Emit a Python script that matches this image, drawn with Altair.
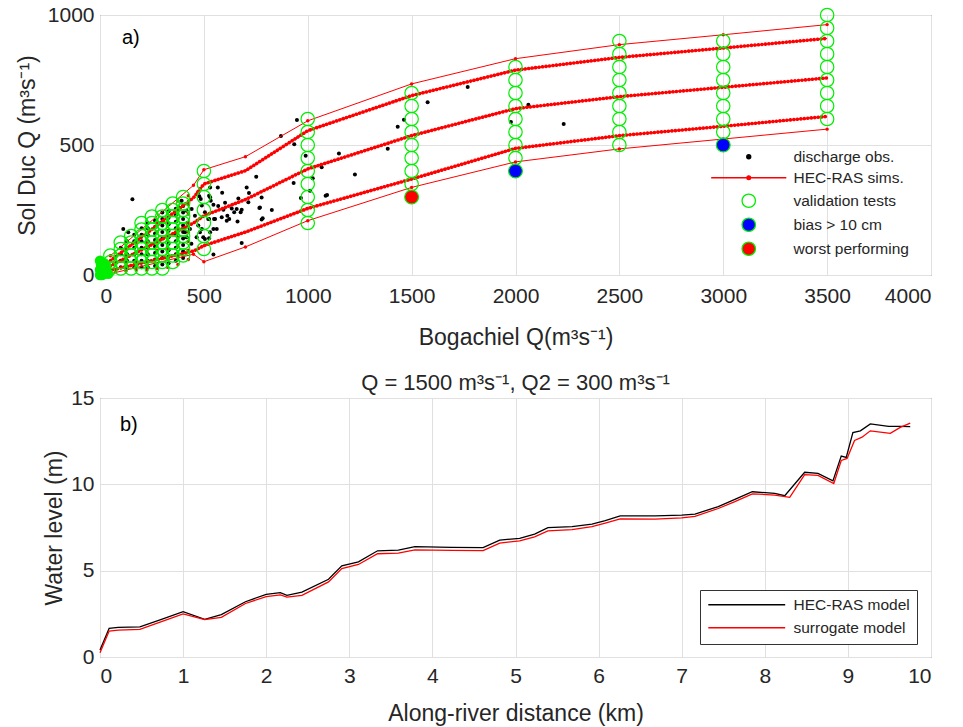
import altair as alt
import pandas as pd

FONT = "Liberation Sans"
TXT = "#262626"
GREEN = "#00ee00"

# ---------------- panel a) data ----------------
# HEC-RAS simulation curves (Bogachiel Q nodes -> Sol Duc Q)
sim_x = [50, 450, 500, 700, 1000, 1500, 2000, 2500, 3000, 3500]
sim_upper_env = [74, 345, 405, 455, 593, 735, 832, 886, 924, 963]
sim_upper_inner = [55, 297, 350, 401, 555, 690, 788, 837, 873, 910]
sim_middle = [35, 200, 228, 290, 408, 536, 640, 686, 722, 758]
sim_lower_inner = [18, 92, 113, 165, 256, 369, 487, 536, 572, 610]
sim_lower_env = [5, 80, 51, 108, 209, 337, 435, 485, 523, 561]

# low-flow simulation grid (Bogachiel Q -> list of Sol Duc Q)
sim_grid = {
    75: [15, 45],
    125: [15, 45, 80],
    175: [20, 50, 85, 120],
    225: [20, 55, 90, 125, 160],
    275: [25, 60, 95, 130, 165, 200],
    325: [30, 65, 100, 135, 170, 205, 240],
    375: [40, 75, 110, 145, 180, 215, 250, 285],
    425: [60, 95, 130, 165, 200, 235, 270, 305],
}

# discharge observations
obs_x = [156, 871, 948, 935, 990, 1067, 1086, 967, 932, 1011, 1024, 1093, 1150, 1227,
         1385, 1433, 1463, 1577, 1770, 1978, 2062, 2232,
         752, 706, 666, 717, 778, 827, 778, 682, 677, 658, 634, 613, 602, 588, 594, 569,
         546, 533, 525, 530, 567, 485, 490, 505, 525, 549, 562, 546, 505, 473, 457, 441,
         433, 465, 490, 525, 546, 610, 662, 714, 767, 783, 409, 417, 417, 393, 770, 646,
         622, 586, 554, 530, 481, 478, 497, 473, 682, 521, 530, 112, 136, 420, 440, 380]
obs_y = [291, 535, 596, 503, 459, 414, 305, 296, 354, 324, 372, 308, 467, 387,
         486, 570, 597, 664, 723, 588, 655, 581,
         378, 337, 294, 315, 298, 250, 213, 123, 241, 254, 256, 228, 278, 316, 251, 265,
         270, 286, 305, 337, 337, 292, 267, 241, 215, 215, 177, 79, 138, 190, 228, 254,
         177, 145, 177, 141, 177, 209, 206, 280, 258, 218, 164, 145, 247, 286, 260, 241,
         215, 222, 215, 164, 164, 303, 145, 318, 251, 215, 299, 177, 164, 200, 120, 260]

# observations on the low-flow lattice (Bogachiel Q -> list of Sol Duc Q)
obs_grid = {
    100: [30, 55, 80, 105],
    130: [30, 55, 80, 105, 130],
    165: [30, 55, 80, 105, 130, 155],
    200: [30, 55, 80, 105, 130, 155, 180],
    230: [30, 55, 80, 105, 130, 155, 180, 200],
    265: [35, 60, 85, 110, 135, 160, 185, 210],
    300: [40, 65, 90, 115, 140, 165, 190, 215, 240],
    330: [45, 70, 95, 120, 145, 170, 195, 220, 245],
    365: [55, 80, 105, 130, 155, 180, 205, 230, 255],
    400: [65, 90, 115, 140, 165, 190, 215, 240, 265],
}

# validation tests (Bogachiel Q -> list of Sol Duc Q)
val_grid = {
    50: [25, 50, 75],
    100: [25, 50, 75, 100, 125],
    150: [25, 50, 75, 100, 125, 150],
    200: [25, 50, 75, 100, 125, 150, 175, 200],
    250: [25, 50, 75, 100, 125, 150, 175, 200, 225],
    300: [25, 50, 75, 100, 125, 150, 175, 200, 225, 250],
    350: [50, 75, 100, 125, 150, 175, 200, 225, 250, 275],
    400: [75, 100, 125, 150, 175, 200, 225, 250, 275, 300],
    500: [100, 150, 200, 250, 300, 350, 400],
    1000: [200, 250, 300, 350, 400, 450, 500, 550, 600],
    1500: [350, 400, 450, 500, 550, 600, 650, 700],
    2000: [450, 500, 550, 600, 650, 700, 750, 800],
    2500: [500, 550, 600, 650, 700, 750, 800, 850, 900],
    3000: [550, 600, 650, 700, 750, 800, 850, 900],
    3500: [600, 650, 700, 750, 800, 850, 900, 950, 1000],
}
# very low flow validation tests (solid cluster at the origin)
origin_x = [0, 10, 20, 30, 0, 15, 30, 5, 20, 0, 40]
origin_y = [0, 0, 5, 15, 20, 20, 35, 40, 45, 55, 5]

bias_x = [2000, 3000]
bias_y = [400, 500]
worst_x = [1500]
worst_y = [300]

legend_a = ["discharge obs.", "HEC-RAS sims.", "validation tests", "bias > 10 cm", "worst performing"]

# ---------------- panel b) data ----------------
hec_km = [0.0, 0.11, 0.22, 0.48, 0.74, 1.0, 1.26, 1.46, 1.75, 2.0, 2.17, 2.25, 2.43, 2.75, 2.91,
          3.11, 3.34, 3.59, 3.79, 4.23, 4.61, 4.81, 5.05, 5.23, 5.39, 5.68, 5.92, 6.08, 6.26,
          6.68, 7.0, 7.16, 7.44, 7.64, 7.85, 8.12, 8.24, 8.48, 8.64, 8.82, 8.92, 8.98, 9.06,
          9.15, 9.27, 9.49, 9.63, 9.75]
hec_wl = [0.4, 1.66, 1.72, 1.75, 2.18, 2.62, 2.18, 2.46, 3.2, 3.63, 3.73, 3.57, 3.76, 4.5, 5.28,
          5.51, 6.15, 6.19, 6.39, 6.35, 6.33, 6.77, 6.87, 7.12, 7.49, 7.55, 7.69, 7.9, 8.17,
          8.17, 8.22, 8.28, 8.71, 9.13, 9.57, 9.48, 9.34, 10.7, 10.63, 10.2, 11.64, 11.56, 13.0,
          13.1, 13.5, 13.36, 13.36, 13.34]
sur_km = [0.0, 0.11, 0.22, 0.48, 0.74, 1.0, 1.26, 1.46, 1.75, 2.0, 2.17, 2.25, 2.43, 2.75, 2.91,
          3.11, 3.34, 3.59, 3.79, 4.23, 4.61, 4.81, 5.05, 5.23, 5.39, 5.68, 5.92, 6.08, 6.26,
          6.68, 7.0, 7.16, 7.44, 7.64, 7.85, 8.12, 8.3, 8.48, 8.64, 8.83, 8.92, 8.99, 9.08,
          9.17, 9.27, 9.51, 9.63, 9.75]
sur_wl = [0.25, 1.5, 1.56, 1.6, 2.05, 2.5, 2.16, 2.3, 3.1, 3.5, 3.6, 3.47, 3.57, 4.35, 5.12,
          5.36, 5.98, 6.02, 6.2, 6.18, 6.16, 6.6, 6.73, 6.96, 7.3, 7.38, 7.55, 7.75, 8.0,
          7.98, 8.06, 8.15, 8.6, 9.0, 9.45, 9.38, 9.25, 10.56, 10.52, 10.05, 11.38, 11.5, 12.54,
          12.73, 13.1, 12.95, 13.3, 13.55]
legend_b = ["HEC-RAS model", "surrogate model"]

# ---------------- build tables ----------------
def grid_frame(d):
    xs, ys = [], []
    for k, vals in d.items():
        for v in vals:
            xs.append(k)
            ys.append(v)
    return pd.DataFrame({"x": xs, "y": ys})

env_df = pd.concat([
    pd.DataFrame({"x": sim_x, "y": sim_upper_env, "c": "ue"}),
    pd.DataFrame({"x": sim_x, "y": sim_lower_env, "c": "le"}),
])
inner_df = pd.concat([
    pd.DataFrame({"x": sim_x, "y": sim_upper_inner, "c": "ui"}),
    pd.DataFrame({"x": sim_x, "y": sim_middle, "c": "mi"}),
    pd.DataFrame({"x": sim_x, "y": sim_lower_inner, "c": "li"}),
])
simgrid_df = grid_frame(sim_grid)
obs_df = pd.concat([pd.DataFrame({"x": obs_x, "y": obs_y}), grid_frame(obs_grid)])
val_df = grid_frame(val_grid)
origin_df = pd.DataFrame({"x": origin_x, "y": origin_y})
bias_df = pd.DataFrame({"x": bias_x, "y": bias_y})
worst_df = pd.DataFrame({"x": worst_x, "y": worst_y})
leg_a_df = pd.DataFrame({"series": legend_a})

W, H = 831, 260

xa = alt.X("x:Q", scale=alt.Scale(domain=[0, 4000], nice=False),
           axis=alt.Axis(values=list(range(0, 4001, 500)), format="d", title="Bogachiel Q(m³s⁻¹)",
                         labelPadding=10, titlePadding=20))
ya = alt.Y("y:Q", scale=alt.Scale(domain=[0, 1000], nice=False),
           axis=alt.Axis(values=[0, 500, 1000], format="d", title="Sol Duc Q (m³s⁻¹)",
                         titlePadding=8))

obs_layer = alt.Chart(obs_df).mark_circle(size=16, color="black", opacity=1).encode(x=xa, y=ya)
env_line = alt.Chart(env_df).mark_line(color="red", strokeWidth=1).encode(x=xa, y=ya, detail="c:N")
env_pts = alt.Chart(env_df).mark_circle(size=12, color="red", opacity=1).encode(x=xa, y=ya)
inner_line = alt.Chart(inner_df).mark_line(color="red", strokeWidth=1).encode(x=xa, y=ya, detail="c:N")
inner_dots = alt.Chart(inner_df).mark_line(color="red", strokeWidth=3.6, strokeDash=[0.1, 3.4],
                                           strokeCap="round").encode(x=xa, y=ya, detail="c:N")
simgrid_pts = alt.Chart(simgrid_df).mark_circle(size=12, color="red", opacity=1).encode(x=xa, y=ya)
val_layer = alt.Chart(val_df).mark_point(shape="circle", size=180, filled=False, stroke=GREEN,
                                         strokeWidth=1.2, opacity=1).encode(x=xa, y=ya)
origin_layer = alt.Chart(origin_df).mark_circle(size=110, color=GREEN, opacity=1).encode(x=xa, y=ya)
bias_layer = alt.Chart(bias_df).mark_point(shape="circle", size=190, filled=True, fill="#0000ff",
                                           stroke=GREEN, strokeWidth=1.2, opacity=1).encode(x=xa, y=ya)
worst_layer = alt.Chart(worst_df).mark_point(shape="circle", size=190, filled=True, fill="#ff0000",
                                             stroke=GREEN, strokeWidth=1.2, opacity=1).encode(x=xa, y=ya)

DOT_PATH = "M-0.3,0A0.3,0.3,0,1,0,0.3,0A0.3,0.3,0,1,0,-0.3,0Z"
SIM_PATH = "M-5.6,0L5.6,0M-0.28,0A0.28,0.28,0,1,0,0.28,0A0.28,0.28,0,1,0,-0.28,0Z"
leg_a = alt.Legend(title=None, orient="none", legendX=641, legendY=134, labelFont=FONT,
                   labelFontSize=15.5, labelColor=TXT, labelOffset=37, symbolSize=180,
                   symbolStrokeWidth=1.3, rowPadding=4, padding=0, symbolOpacity=1)
legend_layer = alt.Chart(leg_a_df).mark_point(opacity=0, size=180).encode(
    x=alt.value(5), y=alt.value(5),
    shape=alt.Shape("series:N", scale=alt.Scale(domain=legend_a,
                    range=[DOT_PATH, SIM_PATH, "circle", "circle", "circle"]), legend=leg_a),
    stroke=alt.Stroke("series:N", scale=alt.Scale(domain=legend_a,
                      range=["#000000", "#ff0000", GREEN, GREEN, GREEN]), legend=leg_a),
    fill=alt.Fill("series:N", scale=alt.Scale(domain=legend_a,
                  range=["#000000", "#ff0000", "transparent", "#0000ff", "#ff0000"]), legend=leg_a),
)

label_a = alt.Chart(pd.DataFrame({"t": ["a)"]})).mark_text(
    font=FONT, fontSize=20, color="black", align="left", baseline="middle").encode(
    text="t:N", x=alt.value(22), y=alt.value(23))

panel_a = alt.layer(obs_layer, env_line, env_pts, inner_line, inner_dots, simgrid_pts,
                    val_layer, origin_layer, bias_layer, worst_layer, legend_layer, label_a
                    ).properties(width=W, height=H)

# ---------------- panel b ----------------
b_df = pd.concat([
    pd.DataFrame({"km": hec_km, "wl": hec_wl, "model": legend_b[0], "o": 0}),
    pd.DataFrame({"km": sur_km, "wl": sur_wl, "model": legend_b[1], "o": 1}),
])
LINE_PATH = "M-0.96,0L10.5,0"
leg_b = alt.Legend(title=None, orient="none", legendX=600, legendY=192, labelFont=FONT,
                   labelFontSize=15.5, labelColor=TXT, symbolType=LINE_PATH, symbolSize=180,
                   symbolStrokeWidth=1.3, labelOffset=71, rowPadding=6, padding=7,
                   strokeColor="#333333", fillColor="white")
xb = alt.X("km:Q", scale=alt.Scale(domain=[0, 10], nice=False),
           axis=alt.Axis(values=list(range(0, 11)), format="d", title="Along-river distance (km)",
                         labelPadding=8, titlePadding=16))
yb = alt.Y("wl:Q", scale=alt.Scale(domain=[0, 15], nice=False),
           axis=alt.Axis(values=[0, 5, 10, 15], format="d", title="Water level (m)",
                         titlePadding=4))
lines_b = alt.Chart(b_df).mark_line(strokeWidth=1.3).encode(
    x=xb, y=yb,
    stroke=alt.Stroke("model:N", scale=alt.Scale(domain=legend_b, range=["#000000", "#ff0000"]),
                      legend=leg_b),
    order="o:Q",
)
label_b = alt.Chart(pd.DataFrame({"t": ["b)"]})).mark_text(
    font=FONT, fontSize=20, color="black", align="left", baseline="middle").encode(
    text="t:N", x=alt.value(20), y=alt.value(27))

panel_b = alt.layer(lines_b, label_b).properties(
    width=W, height=259,
    title=alt.TitleParams("Q = 1500 m³s⁻¹, Q2 = 300 m³s⁻¹", font=FONT, fontSize=22,
                          fontWeight="normal", color=TXT, offset=-8))

chart = alt.vconcat(panel_a, panel_b, spacing=21).resolve_scale(
    x="independent", y="independent", stroke="independent", fill="independent", shape="independent"
).resolve_legend(
    stroke="independent", fill="independent", shape="independent"
).properties(
    padding={"left": 15, "top": 3, "right": 5, "bottom": 5},
    background="white",
).configure_view(stroke="#555555", strokeWidth=1).configure_axis(
    labelFont=FONT, labelFontSize=21, labelColor=TXT, titleFont=FONT, titleFontSize=23,
    titleFontWeight="normal", titleColor=TXT, gridColor="#e0e0e0", gridWidth=1,
    domain=False, ticks=False, labelPadding=6, titlePadding=10
)

chart.save("out.html", embed_options={"renderer": "svg", "actions": False})
